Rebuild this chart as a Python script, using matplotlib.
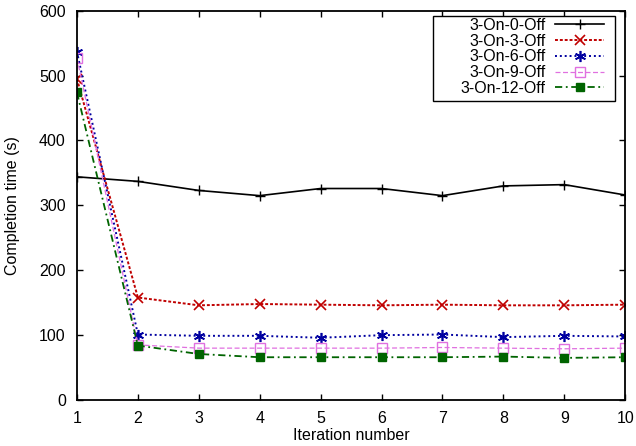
import matplotlib
matplotlib.use('Agg')
import matplotlib.pyplot as plt
from matplotlib.patches import Rectangle

plt.rcParams['font.family'] = ['Liberation Sans', 'DejaVu Sans']

iterations = [1, 2, 3, 4, 5, 6, 7, 8, 9, 10]
off_0 = [344, 337, 323, 315, 326, 326, 315, 330, 332, 316]
off_3 = [495, 158, 146, 148, 147, 146, 147, 146, 146, 147]
off_6 = [537, 101, 99, 99, 96, 100, 101, 97, 99, 98]
off_9 = [527, 85, 80, 80, 80, 80, 81, 80, 79, 80]
off_12 = [474, 84, 71, 66, 66, 66, 66, 67, 65, 66]

fs = 11.5

fig = plt.figure(figsize=(6.36, 4.46), dpi=100)
ax = fig.add_axes([0.121, 0.103, 0.862, 0.873])

ax.plot(iterations, off_0, color='black', linestyle='-', marker='+', markersize=7,
        linewidth=1.2, label='3-On-0-Off')
ax.plot(iterations, off_3, color='#c00000', linestyle=(0, (1.5, 1)), marker='x', markersize=7,
        markeredgewidth=1.2, linewidth=1.4, label='3-On-3-Off')
ax.plot(iterations, off_6, color='#0000a0', linestyle=(0, (1, 1.5)), marker=(6, 2, 0), markersize=8,
        markeredgewidth=1.2, linewidth=1.4, label='3-On-6-Off')
ax.plot(iterations, off_9, color='#e070e0', linestyle=(0, (4, 2)), marker='s', markersize=6.5,
        markerfacecolor='none', linewidth=0.9, label='3-On-9-Off')
ax.plot(iterations, off_12, color='#006400', linestyle=(0, (4, 2, 1, 2)), marker='s', markersize=6,
        linewidth=1.3, label='3-On-12-Off')

ax.set_xlim(1, 10)
ax.set_ylim(0, 600)
ax.set_xticks(iterations)
ax.set_yticks([0, 100, 200, 300, 400, 500, 600])
ax.tick_params(direction='in', top=True, right=True, labelsize=fs, length=4, width=1)
ax.tick_params(axis='y', pad=8)
ax.tick_params(axis='x', pad=8)
ax.set_xlabel('Iteration number', fontsize=fs, labelpad=1)
ax.set_ylabel('Completion time (s)', fontsize=fs, labelpad=14)
for s in ax.spines.values():
    s.set_linewidth(1.3)

# gnuplot-style key box, wider on the left than the entries
ax.add_patch(Rectangle((0.65, 0.768), 0.332, 0.219, transform=ax.transAxes,
                       facecolor='white', edgecolor='black', linewidth=1, zorder=4))
leg = ax.legend(loc='upper right', bbox_to_anchor=(0.962, 0.982), markerfirst=False,
                fontsize=fs, handlelength=3.1, handletextpad=0.6, frameon=False,
                borderpad=0, labelspacing=0.05, borderaxespad=0)
leg.set_zorder(5)

fig.savefig('out.png', dpi=100)
